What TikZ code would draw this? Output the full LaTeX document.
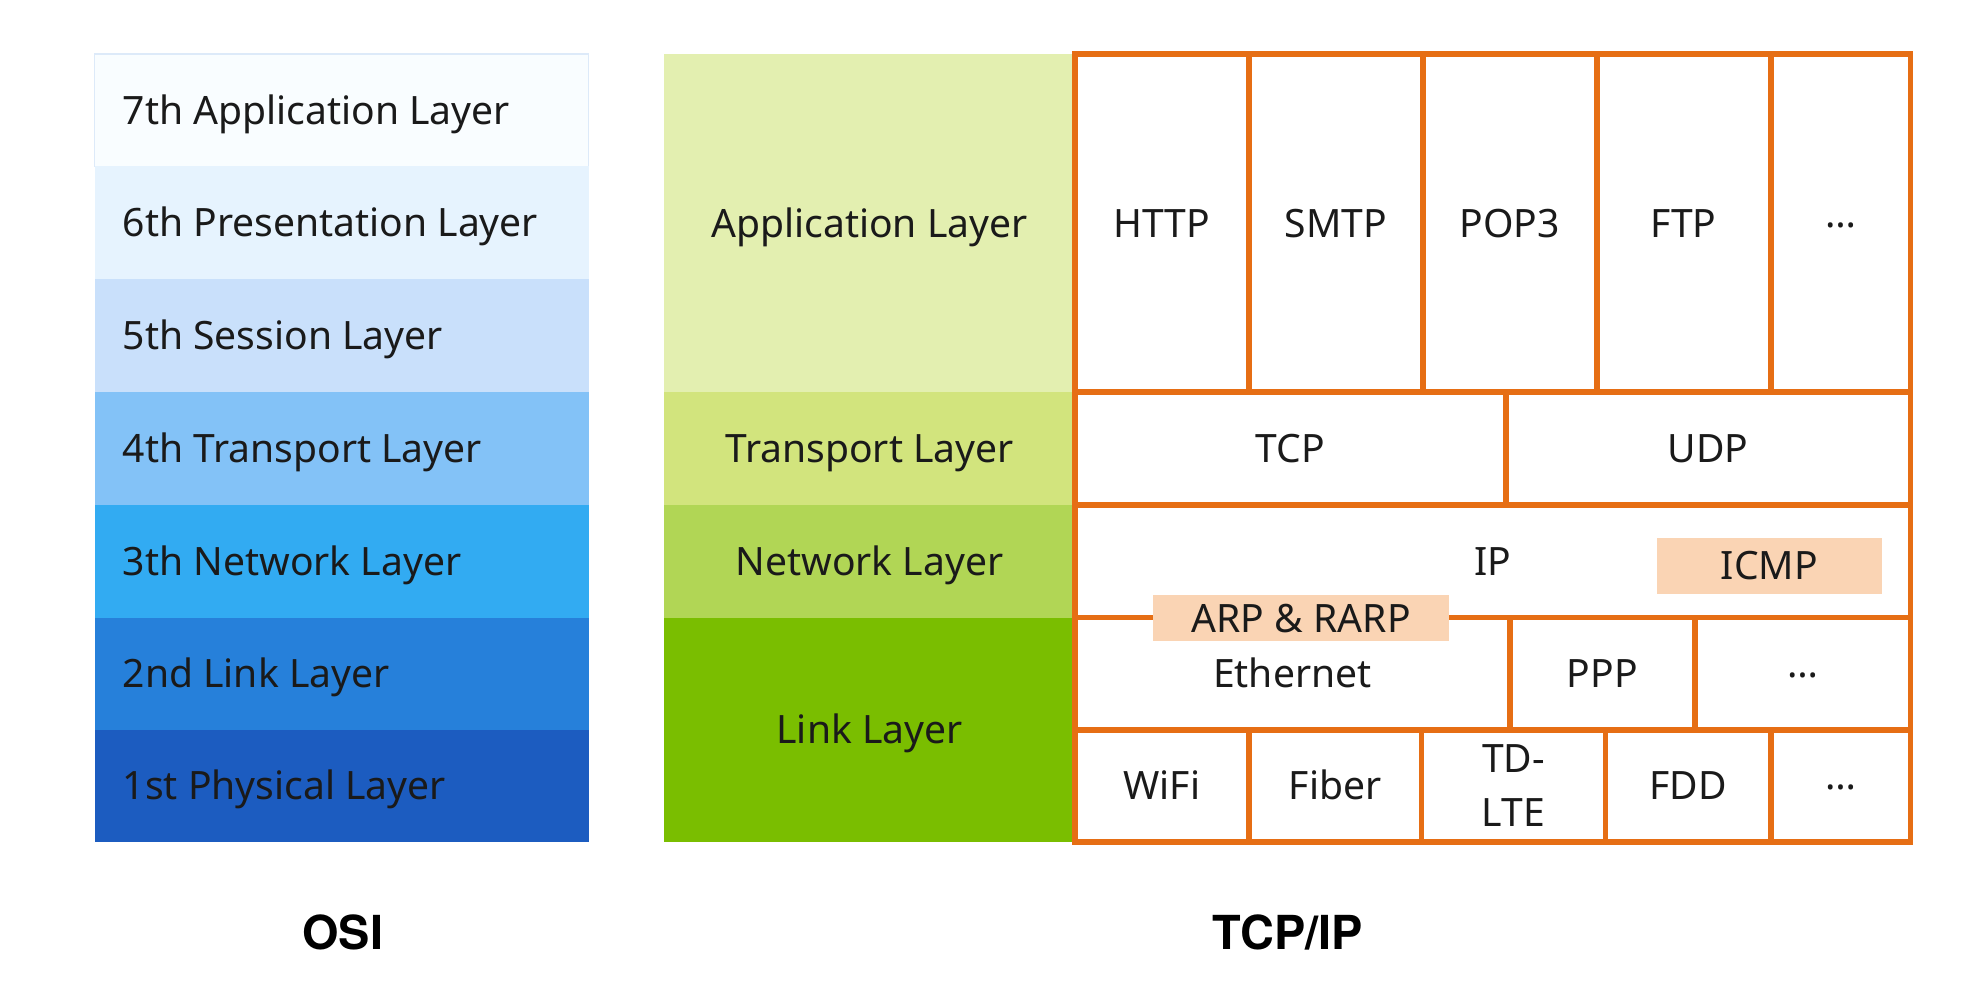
\documentclass[tikz,border=0pt]{standalone}
\usepackage{fontspec}
\setmainfont{Noto Sans}
\newfontfamily\titlefont{TeX Gyre Heros}
\usetikzlibrary{fit}
\definecolor{tcpor}{HTML}{E66E14}
\definecolor{peachc}{HTML}{FAD4B4}
\definecolor{txtc}{HTML}{1A1A1A}
\definecolor{osiA}{HTML}{F9FDFF}
\definecolor{osiAb}{HTML}{DDEAF9}
\definecolor{osiB}{HTML}{E6F3FE}
\definecolor{osiC}{HTML}{C9E0FB}
\definecolor{osiD}{HTML}{83C2F7}
\definecolor{osiE}{HTML}{32ABF2}
\definecolor{osiF}{HTML}{2680DA}
\definecolor{osiG}{HTML}{1C5CC0}
\definecolor{grA}{HTML}{E3EFB0}
\definecolor{grB}{HTML}{D2E47D}
\definecolor{grC}{HTML}{B1D655}
\definecolor{grD}{HTML}{7ABE00}
\newcommand{\dotsmid}{\raisebox{0.25em}{…}}
\begin{document}
\begin{tikzpicture}[x=0.5pt,y=-0.5pt,
  band/.style={inner sep=0pt, outer sep=0pt, draw=none},
  lbl/.style={inner sep=0pt, text=txtc, text height=11.1pt, text depth=0pt, font=\fontsize{15.5}{18}\selectfont},
  ositext/.style={lbl, anchor=west},
  cell/.style={inner sep=0pt, outer sep=0pt, draw=tcpor, line width=2.3pt, fill=white},
  peach/.style={inner sep=0pt, outer sep=0pt, fill=peachc},
  title/.style={text=black, font=\titlefont\bfseries\fontsize{18.6}{20}\selectfont}]
\useasboundingbox[fill=white] (0,0) rectangle (1568,781);

% OSI column
\node[band, fill=osiA, draw=osiAb, line width=0.6pt, fit={(75,43)(467,132)}] (o7) {};
\node[band, fill=osiB, fit={(75,132)(467,221)}] (o6) {};
\node[band, fill=osiC, fit={(75,221)(467,311)}] (o5) {};
\node[band, fill=osiD, fit={(75,311)(467,401)}] (o4) {};
\node[band, fill=osiE, fit={(75,401)(467,490)}] (o3) {};
\node[band, fill=osiF, fit={(75,490)(467,579)}] (o2) {};
\node[band, fill=osiG, fit={(75,579)(467,668)}] (o1) {};
\node[ositext] (t7) at ([xshift=11pt]o7.west) {7th Application Layer};
\node[ositext] (t6) at ([xshift=11pt]o6.west) {6th Presentation Layer};
\node[ositext] (t5) at ([xshift=11pt]o5.west) {5th Session Layer};
\node[ositext] (t4) at ([xshift=11pt]o4.west) {4th Transport Layer};
\node[ositext] (t3) at ([xshift=11pt]o3.west) {3th Network Layer};
\node[ositext] (t2) at ([xshift=11pt]o2.west) {2nd Link Layer};
\node[ositext] (t1) at ([xshift=11pt]o1.west) {1st Physical Layer};

% TCP/IP layer column
\node[band, fill=grA, fit={(527,43)(853,311)}] (gapp) {};
\node[band, fill=grB, fit={(527,311)(853,401)}] (gtr) {};
\node[band, fill=grC, fit={(527,401)(853,490)}] (gnet) {};
\node[band, fill=grD, fit={(527,490)(853,668)}] (glink) {};
\node[lbl] at (gapp.center) {Application Layer};
\node[lbl] at (gtr.center) {Transport Layer};
\node[lbl] at (gnet.center) {Network Layer};
\node[lbl] at (glink.center) {Link Layer};

% application row
\node[cell, fit={(853,43)(991,311)}] (http) {};
\node[cell, fit={(991,43)(1129,311)}] (smtp) {};
\node[cell, fit={(1129,43)(1267,311)}] (pop) {};
\node[cell, fit={(1267,43)(1405,311)}] (ftp) {};
\node[cell, fit={(1405,43)(1516,311)}] (appm) {};
% transport row
\node[cell, fit={(853,311)(1195,401)}] (tcp) {};
\node[cell, fit={(1195,311)(1516,401)}] (udp) {};
% network row
\node[cell, fit={(853,401)(1516,490)}] (ip) {};
% link rows
\node[cell, fit={(853,490)(1198,579)}] (eth) {};
\node[cell, fit={(1198,490)(1345,579)}] (ppp) {};
\node[cell, fit={(1345,490)(1516,579)}] (linkm) {};
\node[cell, fit={(853,579)(991,668)}] (wifi) {};
\node[cell, fit={(991,579)(1128,668)}] (fiber) {};
\node[cell, fit={(1128,579)(1274,668)}] (tdlte) {};
\node[cell, fit={(1274,579)(1405,668)}] (fdd) {};
\node[cell, fit={(1405,579)(1516,668)}] (phym) {};

\node[lbl] at (http.center) {HTTP};
\node[lbl] at (smtp.center) {SMTP};
\node[lbl] at (pop.center) {POP3};
\node[lbl] at (ftp.center) {FTP};
\node[lbl] at (appm.center) {\dotsmid};
\node[lbl] at (tcp.center) {TCP};
\node[lbl] at (udp.center) {UDP};
\node[lbl] at (ip.center) {IP};
\node[lbl] at (eth.center) {Ethernet};
\node[lbl] at (ppp.center) {PPP};
\node[lbl] at (linkm.center) {\dotsmid};
\node[lbl] at (wifi.center) {WiFi};
\node[lbl] at (fiber.center) {Fiber};
\node[inner sep=0pt, text=txtc, align=center, font=\fontsize{15.5}{21.5}\selectfont] at (tdlte.center) {TD-\\LTE};
\node[lbl] at (fdd.center) {FDD};
\node[lbl] at (phym.center) {\dotsmid};

% peach boxes
\node[peach, fit={(1315,427)(1493,471)}] (icmp) {};
\node[peach, fit={(915,472)(1150,509)}] (arp) {};
\node[lbl] at (icmp.center) {ICMP};
\node[lbl] at (arp.center) {ARP \& RARP};

% titles
\node[title] (osi) at (272,740) {OSI};
\node[title] (tcpip) at (1022,740) {TCP/IP};
\end{tikzpicture}
\end{document}
